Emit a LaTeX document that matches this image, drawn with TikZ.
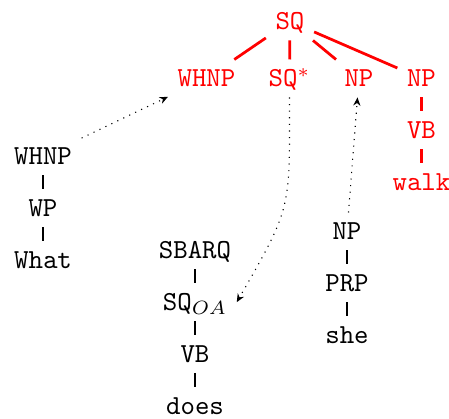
\documentclass[tikz,border=0pt]{standalone}
\usepackage{amsmath,amssymb}
\usepackage{tikz}
\usetikzlibrary{arrows.meta, positioning}
\usepackage{xcolor}
\definecolor{treered}{RGB}{255,0,0}
\newcommand{\cattt}{\fontencoding{OT1}\fontfamily{cmtt}\selectfont}
\tikzstyle{cat} = [rectangle, font=\cattt, text height=7.8pt, text depth=1.6pt, inner ysep=2pt, inner xsep=3.33pt, anchor=base]
\tikzstyle{redcat} = [cat, text=treered]
\tikzstyle{branch} = [thin, black]
\tikzstyle{redbranch} = [line width=1pt, treered]
\tikzstyle{move} = [thin, dotted, -{Stealth[length=3pt, width=2.6pt]}]

\begin{document}
\begin{tikzpicture}[x=0.3636pt, y=0.3636pt]
  \useasboundingbox (0,0) rectangle (449,419);

  % red tree: the frame with its open slots
  \node[redcat] (sq) at (290,389) {SQ};
  \node[redcat] (whnpr) at (206.5,332) {WHNP};
  \node[redcat] (sqs) at (289.5,332) {SQ$^*$};
  \node[redcat] (npr) at (359,332) {NP};
  \node[redcat] (npv) at (421.5,332) {NP};
  \node[redcat, below=5pt of npv] (vbr) {VB};
  \node[redcat, below=5pt of vbr] (walk) {walk};

  % black fragments that fill the slots
  \node[cat] (whnpb) at (43,254) {WHNP};
  \node[cat, below=5pt of whnpb] (wp) {WP};
  \node[cat, below=5pt of wp] (what) {What};

  \node[cat] (sbarq) at (195,160) {SBARQ};
  \node[cat, below=5pt of sbarq] (sqoa) {SQ$_{OA}$};
  \node[cat, below=5pt of sqoa] (vbb) {VB};
  \node[cat, below=5pt of vbb] (does) {does};

  \node[cat] (npb) at (347,179) {NP};
  \node[cat, below=5pt of npb] (prp) {PRP};
  \node[cat, below=5pt of prp] (she) {she};

  \draw[redbranch] (sq) -- (whnpr);
  \draw[redbranch] (sq) -- (sqs);
  \draw[redbranch] (sq) -- (npr);
  \draw[redbranch] (sq) -- (npv);
  \draw[redbranch] (npv) -- (vbr);
  \draw[redbranch] (vbr) -- (walk);

  \draw[branch] (whnpb) -- (wp);
  \draw[branch] (wp) -- (what);
  \draw[branch] (sbarq) -- (sqoa);
  \draw[branch] (sqoa) -- (vbb);
  \draw[branch] (vbb) -- (does);
  \draw[branch] (npb) -- (prp);
  \draw[branch] (prp) -- (she);

  % substitution moves
  \draw[move] (whnpb) -- (whnpr);
  \draw[move] (sqs) to[out=-90, in=60, looseness=1.35] (sqoa.east);
  \draw[move] (npb) -- (npr);
\end{tikzpicture}
\end{document}
